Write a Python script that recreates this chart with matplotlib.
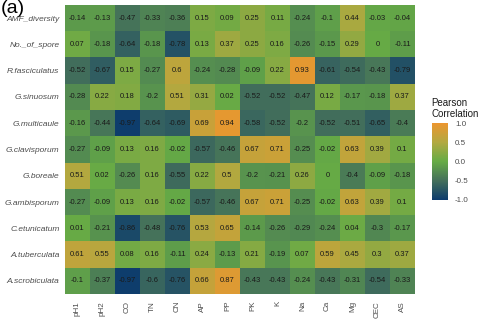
import numpy as np
import matplotlib
matplotlib.use("Agg")
import matplotlib.pyplot as plt
from matplotlib.colors import LinearSegmentedColormap

plt.rcParams["font.family"] = ["Liberation Sans", "DejaVu Sans"]

species = ["AMF_diversity", "No._of_spore", "R.fasciculatus", "G.sinuosum",
           "G.multicaule", "G.clavisporum", "G.boreale", "G.ambisporum",
           "C.etunicatum", "A.tuberculata", "A.scrobiculata"]
factors = ["pH1", "pH2", "CO", "TN", "CN", "AP", "PP", "PK", "K", "Na",
           "Ca", "Mg", "CEC", "AS"]

corr = [
    [-0.14, -0.13, -0.47, -0.33, -0.36, 0.15, 0.09, 0.25, 0.11, -0.24, -0.1, 0.44, -0.03, -0.04],
    [0.07, -0.18, -0.64, -0.18, -0.78, 0.13, 0.37, 0.25, 0.16, -0.26, -0.15, 0.29, 0, -0.11],
    [-0.52, -0.67, 0.15, -0.27, 0.6, -0.24, -0.28, -0.09, 0.22, 0.93, -0.61, -0.54, -0.43, -0.79],
    [-0.28, 0.22, 0.18, -0.2, 0.51, 0.31, 0.02, -0.52, -0.52, -0.47, 0.12, -0.17, -0.18, 0.37],
    [-0.16, -0.44, -0.97, -0.64, -0.69, 0.69, 0.94, -0.58, -0.52, -0.2, -0.52, -0.51, -0.65, -0.4],
    [-0.27, -0.09, 0.13, 0.16, -0.02, -0.57, -0.46, 0.67, 0.71, -0.25, -0.02, 0.63, 0.39, 0.1],
    [0.51, 0.02, -0.26, 0.16, -0.55, 0.22, 0.5, -0.2, -0.21, 0.26, 0, -0.4, -0.09, -0.18],
    [-0.27, -0.09, 0.13, 0.16, -0.02, -0.57, -0.46, 0.67, 0.71, -0.25, -0.02, 0.63, 0.39, 0.1],
    [0.01, -0.21, -0.86, -0.48, -0.76, 0.53, 0.65, -0.14, -0.26, -0.29, -0.24, 0.04, -0.3, -0.17],
    [0.61, 0.55, 0.08, 0.16, -0.11, 0.24, -0.13, 0.21, -0.19, 0.07, 0.59, 0.45, 0.3, 0.37],
    [-0.1, -0.37, -0.97, -0.6, -0.76, 0.66, 0.87, -0.43, -0.43, -0.24, -0.43, -0.31, -0.54, -0.33],
]

cmap = LinearSegmentedColormap.from_list(
    "pearson", ["#0c3b6d", "#44705b", "#66ab46", "#b2a940", "#ec962f"])

fig = plt.figure(figsize=(4.8, 3.21), dpi=100)
ax = fig.add_axes([65 / 480, 27 / 321, 350 / 480, 289 / 321])

data = np.array(corr)
im = ax.imshow(data, cmap=cmap, vmin=-1, vmax=1, aspect="auto")

for i in range(len(species)):
    for j in range(len(factors)):
        ax.text(j, i, f"{data[i, j]:g}", ha="center", va="center",
                fontsize=5.5, color="#1a1a1a")

ax.set_xticks(range(len(factors)))
ax.set_xticklabels(factors, rotation=90, fontsize=5.8, color="#4d4d4d")
ax.set_yticks(range(len(species)))
ax.set_yticklabels(species, fontsize=6, style="italic", color="#4d4d4d")
ax.tick_params(axis="y", length=0, pad=4)
ax.tick_params(axis="x", length=0, pad=5)
for s in ax.spines.values():
    s.set_visible(False)

cax = fig.add_axes([432 / 480, (321 - 200) / 321, 16 / 480, 77 / 321])
cb = fig.colorbar(im, cax=cax, ticks=[-1, -0.5, 0, 0.5, 1])
cb.ax.set_yticklabels(["-1.0", "-0.5", "0.0", "0.5", "1.0"])
cb.ax.tick_params(labelsize=5.8, length=3, color="white", labelcolor="#4d4d4d", pad=2)
cb.outline.set_visible(False)
fig.text(431 / 480, 1 - 119 / 321, "Pearson\nCorrelation", fontsize=7,
         va="bottom", ha="left", color="#1a1a1a", linespacing=1.1)

fig.text(0.002, 1 - 0 / 321, "(a)", fontsize=14, va="top", ha="left")

fig.savefig("out.png", dpi=100)
